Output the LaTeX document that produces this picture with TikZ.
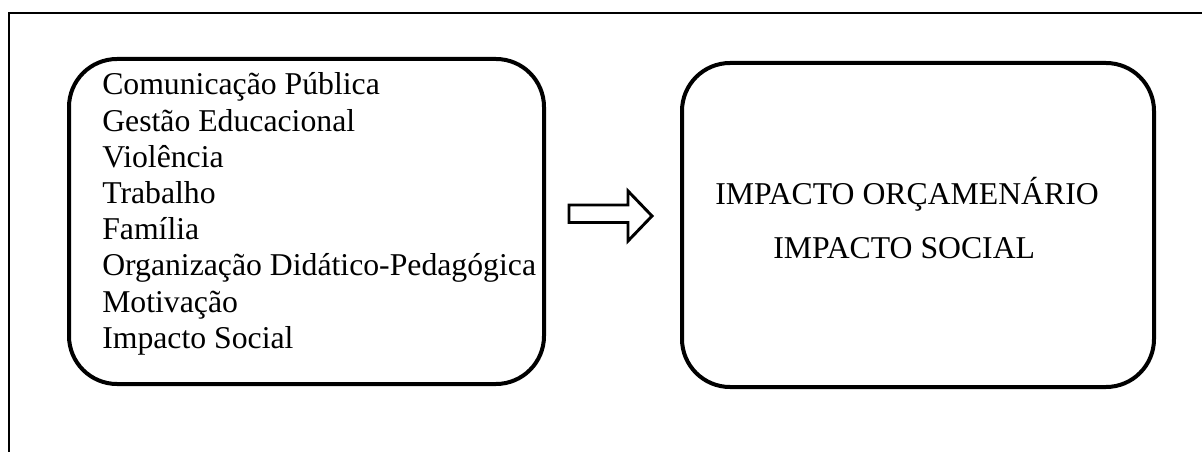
\documentclass[tikz,border=0pt]{standalone}
\usepackage{fontspec}
\setmainfont{Liberation Serif}
\begin{document}
\begin{tikzpicture}[x=0.75pt,y=-0.75pt,
  roundbox/.style={draw,line width=3pt,rounded corners=36pt,inner sep=0pt},
  itemtext/.style={anchor=base west,inner sep=0pt,font=\fontsize{23.8pt}{27pt}\selectfont},
  frameline/.style={line width=1.1pt}]
\useasboundingbox (0,0) rectangle (1202,452);
% outer frame (top and left edges visible)
\coordinate (fTL) at (9,13);
\coordinate (fTR) at (1210,13);
\coordinate (fBL) at (9,460);
\draw[frameline] (fTR) -- (fTL) -- (fBL);
% boxes
\node[roundbox,minimum width=475*0.75pt,minimum height=325*0.75pt] (left) at (306.5,221.5) {};
\node[roundbox,minimum width=472*0.75pt,minimum height=324*0.75pt] (right) at (918,225) {};
% list in the left box
\foreach \t [count=\i] in {Comunicação Pública,Gestão Educacional,Violência,Trabalho,Família,Organização Didático-Pedagógica,Motivação,Impacto Social}{
  \node[itemtext] (l\i) at (102,{95+36.2*(\i-1)}) {\t};
}
% right box texts
\node[itemtext] (r1) at (715,205) {IMPACTO ORÇAMENÁRIO};
\node[itemtext] (r2) at (773,258) {IMPACTO SOCIAL};
% hollow block arrow between the boxes
\draw[line width=2.2pt,line join=miter]
  (569,205) -- (628,205) -- (628,191) -- (652,216) -- (628,241) -- (628,222.5) -- (569,222.5) -- cycle;
\end{tikzpicture}
\end{document}
